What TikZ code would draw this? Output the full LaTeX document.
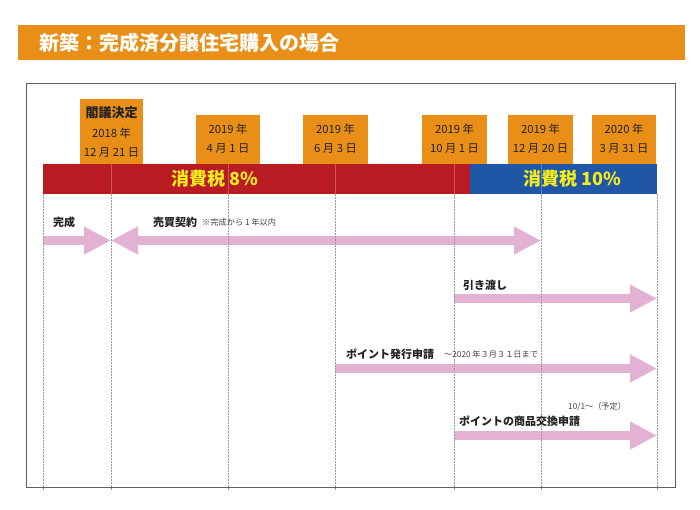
\documentclass[tikz,border=0pt]{standalone}
\usepackage{fontspec}
\setmainfont{Noto Sans CJK JP}
\usetikzlibrary{arrows.meta}
\definecolor{orng}{HTML}{E98F18}
\definecolor{taxred}{HTML}{B91B22}
\definecolor{taxblue}{HTML}{1F57A6}
\definecolor{taxyel}{HTML}{F4EC1E}
\definecolor{pinkarr}{HTML}{E3B2D3}
\definecolor{framec}{HTML}{606060}
\definecolor{txt}{HTML}{222222}
\tikzset{
  datebox/.style={fill=orng},
  dtext/.style={font=\fontsize{11.3}{13}\selectfont, text=txt, inner sep=0},
  dhead/.style={font=\fontsize{13}{15}\bfseries\selectfont, text=txt, inner sep=0},
  taxtext/.style={font=\fontsize{18}{20}\bfseries\selectfont, text=taxyel, inner sep=0},
  lbl/.style={font=\fontsize{11}{13}\bfseries\selectfont, text=txt, anchor=west, inner sep=0},
  note/.style={font=\fontsize{8.2}{10}\selectfont, text=txt!85, anchor=west, inner sep=0},
  vline/.style={gray!80, line width=0.5, dash pattern=on 2pt off 1pt},
  vlinebar/.style={white, opacity=0.25, line width=0.5},
  parrow/.style={draw=pinkarr, line width=9pt, -{Triangle[width=26pt,length=27pt]}},
  pdarrow/.style={draw=pinkarr, line width=9pt, {Triangle[width=26pt,length=27pt]}-{Triangle[width=26pt,length=27pt]}},
}
\begin{document}
\begin{tikzpicture}[x=1pt,y=-1pt]
\useasboundingbox (0,0) rectangle (700,510);
\fill[white] (0,0) rectangle (700,510);
% title
\fill[orng] (18,25) rectangle (685,60);
\node[anchor=west, text=white, font=\fontsize{20}{22}\bfseries\selectfont, inner sep=0] (title) at (39,42.5) {新築：完成済分譲住宅購入の場合};
% frame
\draw[framec, line width=1] (26,84) rectangle (675,487);
% date boxes
\fill[datebox] (80,99) rectangle (143,164);
\fill[datebox] (196,115) rectangle (260,164);
\fill[datebox] (303,115) rectangle (368,164);
\fill[datebox] (422,115) rectangle (487,164);
\fill[datebox] (508,115) rectangle (573,164);
\fill[datebox] (592,115) rectangle (656,164);
\node[dhead] (d1a) at (111.5,113) {閣議決定};
\node[dtext] (d1b) at (111.5,133) {2018 年};
\node[dtext] (d1c) at (111.5,152.5) {12 月 21 日};
\node[dtext] (d2a) at (228,129) {2019 年};
\node[dtext] (d2b) at (228,149) {4 月 1 日};
\node[dtext] (d3a) at (335.5,129) {2019 年};
\node[dtext] (d3b) at (335.5,149) {6 月 3 日};
\node[dtext] (d4a) at (454.5,129) {2019 年};
\node[dtext] (d4b) at (454.5,149) {10 月 1 日};
\node[dtext] (d5a) at (540.5,129) {2019 年};
\node[dtext] (d5b) at (540.5,149) {12 月 20 日};
\node[dtext] (d6a) at (624,129) {2020 年};
\node[dtext] (d6b) at (624,149) {3 月 31 日};
% tax bars
\fill[taxred] (43,164) rectangle (470,194);
\fill[taxblue] (470,164) rectangle (657,194);
\node[taxtext] (t8) at (215,179) {消費税 8\%};
\node[taxtext] (t10) at (572,179) {消費税 10\%};
% timeline coordinates
\coordinate (c1) at (43,240.5);
\coordinate (c2) at (111,240.5);
\coordinate (c3) at (541,240.5);
\coordinate (h1) at (454,298.5);
\coordinate (h2) at (657,298.5);
\coordinate (p1) at (335,368.5);
\coordinate (p2) at (657,368.5);
\coordinate (e1) at (454,435.5);
\coordinate (e2) at (657,435.5);
% arrows
\draw[parrow] (c1) -- (c2);
\draw[pdarrow] (c2) -- (c3);
\draw[parrow] (h1) -- (h2);
\draw[parrow] (p1) -- (p2);
\draw[parrow] (e1) -- (e2);
% vertical lines
\foreach \x in {43,111,228,335,454,541,657}{
  \draw[vline] (\x,194) -- (\x,490);
}
\foreach \x in {111,228,335,454}{
  \draw[vlinebar] (\x,164) -- (\x,194);
}
\draw[vlinebar] (541,164) -- (541,194);
% labels
\node[lbl] (l1) at (53,222) {完成};
\node[lbl] (l2) at (153,222) {売買契約};
\node[note] (n2) at (202,222.5) {※完成から 1 年以内};
\node[lbl] (l3) at (463,285) {引き渡し};
\node[lbl] (l4) at (346,354) {ポイント発行申請};
\node[note] (n4) at (444,354.5) {～2020 年３月３１日まで};
\node[note] (n5) at (568,407) {10/1～（予定）};
\node[lbl] (l5) at (459,421) {ポイントの商品交換申請};
\end{tikzpicture}
\end{document}
